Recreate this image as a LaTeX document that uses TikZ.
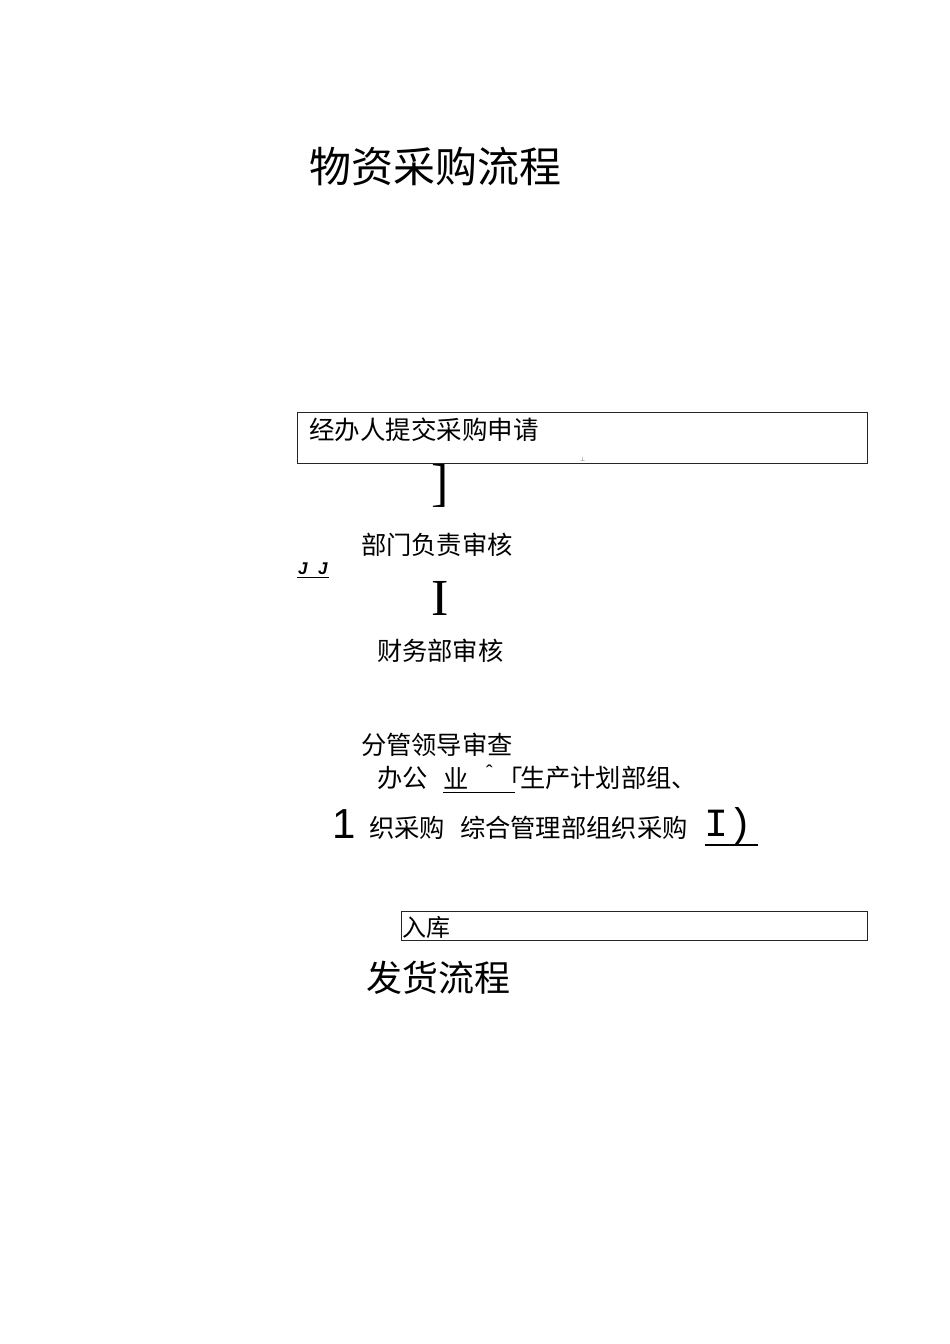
\documentclass[tikz,border=0pt]{standalone}
\usepackage{fontspec}
\newfontfamily\cjk{Noto Sans CJK SC}
\newfontfamily\serifl{Liberation Serif}
\newfontfamily\sansl{Liberation Sans}
\newfontfamily\monol{Liberation Mono}
\newfontfamily\dejavu{DejaVu Sans}
\begin{document}
\begin{tikzpicture}[x=1pt,y=-1pt,
  txt/.style={anchor=west,inner sep=0pt,outer sep=0pt,text=black},
  boxd/.style={draw=black!85,line width=0.9pt,inner sep=0pt,anchor=north west},
  ulinel/.style={draw=black,line width=0.9pt}]
\path[use as bounding box,fill=white] (0,0) rectangle (950,1344);
% title
\node[txt] (title) at (309,167) {\cjk\fontsize{42}{42}\selectfont 物资采购流程};
% box 1
\node[boxd,minimum width=570pt,minimum height=51pt] (box1) at (297,412) {};
\node[txt] (t1) at (309,430) {\cjk\fontsize{25.5}{25.5}\selectfont 经办人提交采购申请};
\node[txt,text=black!60] (tick) at (580,459) {\dejavu\fontsize{6}{6}\selectfont ⊥};
% bracket
\node[txt] (br) at (431,486) {\serifl\fontsize{52}{52}\selectfont ]};
\node[txt] (t2) at (361,545) {\cjk\fontsize{25.3}{25.3}\selectfont 部门负责审核};
\node[txt] (jj1) at (298,569) {\sansl\itshape\bfseries\fontsize{17}{17}\selectfont J};
\node[txt] (jj2) at (318,569) {\sansl\itshape\bfseries\fontsize{17}{17}\selectfont J};
\coordinate (ul0a) at (297,577);
\coordinate (ul0b) at (329,577);
\draw[ulinel,line width=0.8pt] (ul0a) -- (ul0b);
\node[txt] (bar) at (431,598) {\serifl\fontsize{52}{52}\selectfont I};
\node[txt] (t3) at (377,651) {\cjk\fontsize{25.3}{25.3}\selectfont 财务部审核};
\node[txt] (t4) at (361,745) {\cjk\fontsize{25.3}{25.3}\selectfont 分管领导审查};
\node[txt] (t5a) at (377,778) {\cjk\fontsize{25.3}{25.3}\selectfont 办公};
\node[txt] (t5b) at (443,778) {\cjk\fontsize{25.3}{25.3}\selectfont 业};
\node[txt] (t5c) at (486,772) {\sansl\fontsize{20}{20}\selectfont ˆ};
\node[txt] (t5d) at (497,778) {\cjk\fontsize{25.3}{25.3}\selectfont 「};
\node[txt] (t5e) at (520,778) {\cjk\fontsize{25.3}{25.3}\selectfont 生产计划部组、};
\coordinate (ul1a) at (443,792);
\coordinate (ul1b) at (515,792);
\draw[ulinel] (ul1a) -- (ul1b);
\node[txt] (one) at (332,824) {\sansl\fontsize{42}{42}\selectfont 1};
\node[txt] (t6a) at (369,828) {\cjk\fontsize{25.3}{25.3}\selectfont 织采购};
\node[txt] (t6b) at (460,828) {\cjk\fontsize{25.3}{25.3}\selectfont 综合管理部组织采购};
\node[txt] (ip) at (704,826) {\monol\fontsize{40}{40}\selectfont I)};
\coordinate (ul2a) at (705,845);
\coordinate (ul2b) at (758,845);
\draw[ulinel,line width=1.6pt] (ul2a) -- (ul2b);
% box 2
\node[boxd,minimum width=466pt,minimum height=29pt] (box2) at (401,911) {};
\node[txt] (t7) at (402,927) {\cjk\fontsize{24}{24}\selectfont 入库};
\node[txt] (t8) at (366,978) {\cjk\fontsize{36}{36}\selectfont 发货流程};
\end{tikzpicture}
\end{document}
